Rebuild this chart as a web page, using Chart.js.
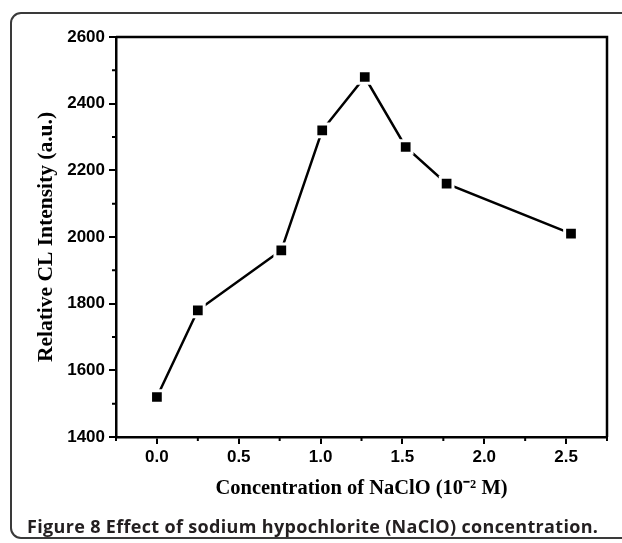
<!DOCTYPE html>
<html>
<head>
<meta charset="utf-8">
<script src="https://cdn.jsdelivr.net/npm/chart.js@4.4.1/dist/chart.umd.min.js"></script>
<style>
  html, body { margin: 0; padding: 0; background: #fff; }
  body { width: 622px; height: 543px; position: relative; overflow: hidden; }
  #frame {
    position: absolute; left: 10px; top: 12px; width: 700px; height: 527px;
    border: 2px solid #3a3a3a; border-radius: 11px; box-sizing: border-box;
  }
  #chart { position: absolute; left: 0; top: 0; }
  #caption {
    position: absolute; left: 27px; top: 517px; white-space: nowrap; line-height: 18px;
    font-family: "Open Sans", sans-serif; font-size: 18px; font-weight: 700; color: #231f20;
    letter-spacing: 0.33px;
  }
</style>
</head>
<body>
<div id="frame"></div>
<canvas id="chart" width="622" height="543"></canvas>
<div id="caption">Figure 8 Effect of sodium hypochlorite (NaClO) concentration.</div>
<script>
// NaClO concentration (10^-2 M) vs relative CL intensity
const concentration = [0.0, 0.25, 0.76, 1.01, 1.27, 1.52, 1.77, 2.53];
const intensity = [1520, 1780, 1960, 2320, 2480, 2270, 2160, 2010];

const xTicks = [0.0, 0.5, 1.0, 1.5, 2.0, 2.5];
const yTicks = [1400, 1600, 1800, 2000, 2200, 2400, 2600];
const xMinorTicks = [-0.25, 0.25, 0.75, 1.25, 1.75, 2.25, 2.75];
const yMinorTicks = [1500, 1700, 1900, 2100, 2300, 2500];

const tickFont = { family: "'Liberation Sans', Arial, sans-serif", size: 17, weight: "bold" };
const titleFont = { family: "'Liberation Serif', 'Times New Roman', serif", size: 20.5, weight: "bold" };

// top/right frame + short minor ticks
const frameAndMinor = {
  id: "frameAndMinor",
  afterDraw(chart) {
    const ctx = chart.ctx;
    const a = chart.chartArea;
    const xs = chart.scales.x;
    const ys = chart.scales.y;
    ctx.save();
    ctx.strokeStyle = "#000";
    ctx.lineWidth = 2.5;
    ctx.beginPath();
    ctx.moveTo(a.left, a.top);
    ctx.lineTo(a.right, a.top);
    ctx.lineTo(a.right, a.bottom);
    ctx.stroke();

    ctx.lineWidth = 2;
    ctx.beginPath();
    xMinorTicks.forEach((v) => {
      const px = xs.getPixelForValue(v);
      ctx.moveTo(px, a.bottom);
      ctx.lineTo(px, a.bottom + 4);
    });
    yMinorTicks.forEach((v) => {
      const py = ys.getPixelForValue(v);
      ctx.moveTo(a.left, py);
      ctx.lineTo(a.left - 4, py);
    });
    ctx.stroke();
    ctx.restore();
  }
};

new Chart(document.getElementById("chart"), {
  type: "line",
  data: {
    datasets: [{
      data: concentration.map((x, i) => ({ x: x, y: intensity[i] })),
      borderColor: "#000",
      borderWidth: 2.5,
      pointStyle: "rect",
      pointRadius: 9,
      pointBackgroundColor: "#000",
      pointBorderColor: "#fff",
      pointBorderWidth: 3,
      tension: 0,
      fill: false
    }]
  },
  options: {
    responsive: false,
    animation: false,
    layout: { padding: { left: 33, right: 15, top: 37, bottom: 36 } },
    plugins: { legend: { display: false }, tooltip: { enabled: false } },
    scales: {
      x: {
        type: "linear",
        min: -0.25,
        max: 2.75,
        afterBuildTicks: (axis) => { axis.ticks = xTicks.map((v) => ({ value: v })); },
        afterFit: (axis) => { axis.height = 70; },
        border: { display: true, color: "#000", width: 2.5 },
        grid: { drawOnChartArea: false, drawTicks: true, tickLength: 7, color: "#000", lineWidth: 2 },
        ticks: {
          color: "#000",
          font: tickFont,
          padding: 3,
          maxRotation: 0,
          callback: (v) => Number(v).toFixed(1)
        },
        title: {
          display: true,
          text: "Concentration of NaClO (10\u207B\u00B2 M)",
          color: "#000",
          font: titleFont,
          padding: { top: 4, bottom: 6 }
        }
      },
      y: {
        min: 1400,
        max: 2600,
        afterBuildTicks: (axis) => { axis.ticks = yTicks.map((v) => ({ value: v })); },
        afterFit: (axis) => { axis.width = 83; },
        border: { display: true, color: "#000", width: 2.5 },
        grid: { drawOnChartArea: false, drawTicks: true, tickLength: 7, color: "#000", lineWidth: 2 },
        ticks: { color: "#000", font: tickFont, padding: 4, callback: (v) => String(v) },
        title: {
          display: true,
          text: "Relative CL Intensity (a.u.)",
          color: "#000",
          font: { family: titleFont.family, size: 21.5, weight: "bold" },
          padding: { top: 1, bottom: 1 }
        }
      }
    }
  },
  plugins: [frameAndMinor]
});
</script>
</body>
</html>
